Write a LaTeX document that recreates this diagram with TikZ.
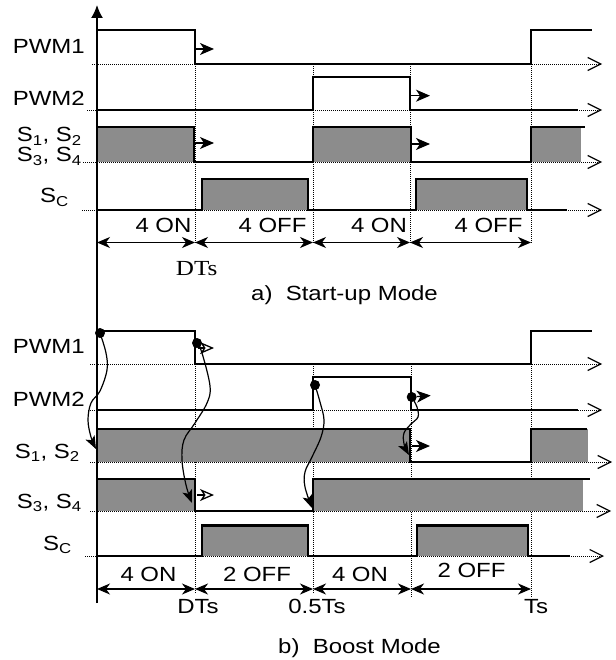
\documentclass[tikz,border=0pt]{standalone}
\usepackage{fontspec}
\setmainfont{Liberation Sans}[FakeStretch=1.17]
\newfontfamily\timesfont{Liberation Serif}[FakeStretch=1.17]
\usetikzlibrary{arrows.meta}

\begin{document}
\begin{tikzpicture}[x=1pt, y=-1pt, >=Stealth,
    every node/.style={font=\fontsize{20.5}{23}\selectfont, inner sep=0pt},
    sig/.style={line width=2.2pt, line join=miter},
    pulse/.style={fill=black!45},
    base/.style={line width=0.9pt, dash pattern=on 1pt off 1pt, -{Straight Barb[length=13pt, width=13pt, line width=1.2pt]}},
    gridline/.style={line width=0.9pt, dash pattern=on 1pt off 1pt},
    dim/.style={line width=1.3pt, {Stealth[length=13pt, width=11pt, inset=4pt]}-{Stealth[length=13pt, width=11pt, inset=4pt]}},
    push/.style={line width=1.3pt, -{Stealth[length=14pt, width=12pt, inset=4pt]}},
    pushopen/.style={line width=1.3pt, -{Stealth[length=14pt, width=12pt, inset=4pt, open]}},
    cause/.style={line width=1.2pt, -{Stealth[length=13pt, width=10pt, inset=3pt]}},
    dot/.style={circle, fill=black, minimum size=10pt}]
  \useasboundingbox (0,0) rectangle (615,660);

  % a) start-up mode
  \draw[base] (92,64) -- (602,64);
  \draw[base] (87,110) -- (602,110);
  \draw[base] (83,162) -- (602,162);
  \draw[base] (82,210) -- (602,210);
  \coordinate (uaa) at (97,242.5);
  \foreach \x/\n in {195/b, 313/c, 410/d, 531/e} {
    \coordinate (ua\n) at (\x,242.5);
    \draw[gridline] (\x,64) -- (ua\n);
  }
  \fill[pulse] (97,127) rectangle (194,162);
  \fill[pulse] (313,127) rectangle (411,162);
  \fill[pulse] (531,127) rectangle (581,162);
  \fill[pulse] (201.7,179) rectangle (308,210);
  \fill[pulse] (416,179) rectangle (527,210);
  \draw[sig] (97,30) -- (195,30) -- (195,64) -- (531,64) -- (531,30) -- (592,30);
  \draw[sig] (97,110) -- (313,110) -- (313,77) -- (410,77) -- (410,110) -- (578,110);
  \draw[sig] (97,127) -- (194,127) -- (194,162) -- (313,162) -- (313,127) -- (411,127) -- (411,162) -- (531,162) -- (531,127) -- (585,127);
  \draw[sig] (97,210) -- (201.7,210) -- (201.7,179) -- (308,179) -- (308,210) -- (416,210) -- (416,179) -- (527,179) -- (527,210) -- (567,210);
  \draw[push] (195,49) -- (214,49);
  \draw[push] (411,95.7) -- (430,95.7);
  \draw[push] (194,143) -- (214,143);
  \draw[push] (411,144) -- (430,144);
  \foreach \a/\b in {a/b, b/c, c/d, d/e}
    \draw[dim] (ua\a) -- (ua\b);

  \node[anchor=base east] (lPwmOneA) at (85,54) {PWM1};
  \node[anchor=base east] (lPwmTwoA) at (85,106) {PWM2};
  \node[anchor=base east] (lSwOneA) at (82,142) {S\textsubscript{1}, S\textsubscript{2}};
  \node[anchor=base east] (lSwTwoA) at (82,162) {S\textsubscript{3}, S\textsubscript{4}};
  \node[anchor=base east] (lScA) at (69,203) {S\textsubscript{C}};
  \node[anchor=base] (onA) at (163.5,233) {4 ON};
  \node[anchor=base] (offA) at (272.5,233) {4 OFF};
  \node[anchor=base] (onB) at (379,233) {4 ON};
  \node[anchor=base] (offB) at (488.5,233) {4 OFF};
  \node[anchor=base, font=\fontsize{21.5}{24}\timesfont] (dtsA) at (196.7,275) {DTs};
  \node[anchor=base] (capA) at (344.5,300) {a)~~Start-up Mode};

  % b) boost mode
  \draw[base] (90,364) -- (602,364);
  \draw[base] (88,410) -- (602,410);
  \draw[base] (90,462) -- (612,462);
  \draw[base] (90,511) -- (611,511);
  \draw[base] (85,556) -- (604,556);
  \coordinate (lba) at (97,589);
  \foreach \x/\n/\e in {195/b/594, 313/c/594, 411/d/597, 531/e/598} {
    \coordinate (lb\n) at (\x,589);
    \draw[gridline] (\x,364) -- (\x,\e);
  }
  \fill[pulse] (97,429) rectangle (410,462);
  \fill[pulse] (531,429) rectangle (588,462);
  \fill[pulse] (97,479) rectangle (195,511);
  \fill[pulse] (313,479) rectangle (583,511);
  \fill[pulse] (201.7,525.5) rectangle (308,556);
  \fill[pulse] (417,525.5) rectangle (528,556);
  \draw[sig] (97,331) -- (195,331) -- (195,364) -- (531,364) -- (531,331) -- (592,331);
  \draw[sig] (97,410) -- (313,410) -- (313,377) -- (410.7,377) -- (410.7,410) -- (578,410);
  \draw[sig] (97,429) -- (410,429) -- (410,462) -- (531,462) -- (531,429) -- (587,429);
  \draw[sig] (97,479) -- (195,479) -- (195,511) -- (313,511) -- (313,479) -- (590,479);
  \draw[sig] (97,556) -- (201.7,556) -- (201.7,525.5) -- (308,525.5) -- (308,556) -- (417,556) -- (417,525.5) -- (528,525.5) -- (528,556) -- (570,556);
  \foreach \a/\b in {a/b, b/c, c/d, d/e}
    \draw[dim] (lb\a) -- (lb\b);

  \node[dot] (dA) at (100,333) {};
  \node[dot] (dB) at (197,343) {};
  \node[dot] (dC) at (315,385) {};
  \node[dot] (dD) at (411.7,397) {};
  \coordinate (tA) at (96,449);
  \coordinate (tB) at (192,503);
  \coordinate (tC) at (312,508);
  \coordinate (tD) at (409,455);
  \draw[pushopen] (dB) ++(1,5) -- ++(16,0);
  \draw[pushopen] (197,495) -- (214,495);
  \draw[push] (dD) -- ++(19,-1.5);
  \draw[push] (412,446) -- (430,446);
  \draw[cause] plot[smooth, tension=0.6] coordinates {(dA.center) (106,353) (107,370) (100,391) (91,403) (88,420) (91,437) (tA)};
  \draw[cause] plot[smooth, tension=0.6] coordinates {(dB.center) (202,353) (210,386) (207,403) (195,423) (184,440) (182,460) (186,485) (tB)};
  \draw[cause] plot[smooth, tension=0.6] coordinates {(dC.center) (320,402) (324,420) (321,437) (312,457) (305,472) (305,487) (tC)};
  \draw[cause] plot[smooth, tension=0.6] coordinates {(dD.center) (417,407) (418,417) (411,424) (404,433) (404,444) (tD)};

  \node[anchor=base east] (lPwmOneB) at (85,353) {PWM1};
  \node[anchor=base east] (lPwmTwoB) at (85,406) {PWM2};
  \node[anchor=base east] (lSwOneB) at (80,458) {S\textsubscript{1}, S\textsubscript{2}};
  \node[anchor=base east] (lSwTwoB) at (82,508) {S\textsubscript{3}, S\textsubscript{4}};
  \node[anchor=base east] (lScB) at (72,550) {S\textsubscript{C}};
  \node[anchor=base] (onC) at (148.5,581) {4 ON};
  \node[anchor=base] (offC) at (257,581) {2 OFF};
  \node[anchor=base] (onD) at (360,581) {4 ON};
  \node[anchor=base] (offD) at (471.5,577) {2 OFF};
  \node[anchor=base] (dtsB) at (198,613) {DTs};
  \node[anchor=base] (halfTs) at (317,613) {0.5Ts};
  \node[anchor=base] (fullTs) at (536,613) {Ts};
  \node[anchor=base] (capB) at (359.5,653) {b)~~Boost Mode};

  % time axis
  \draw[line width=1.6pt, -{Latex[length=13pt, width=12pt]}] (97,603) -- (97,5);
\end{tikzpicture}
\end{document}
